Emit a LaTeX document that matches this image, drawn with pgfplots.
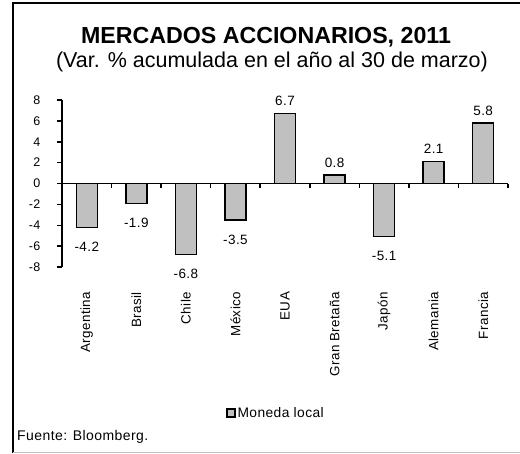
\documentclass[border=0pt]{standalone}
\usepackage{pgfplots}
\pgfplotsset{compat=1.18}
\usepackage{fontspec}
\setmainfont{Liberation Sans}[LetterSpace=3]
\newfontfamily\titlefont{Liberation Sans}
\definecolor{barfill}{HTML}{C0C0C0}
\begin{document}
\begin{tikzpicture}[x=1pt,y=1pt]
\path[use as bounding box] (0,0) rectangle (520,-453);
\draw[line width=2pt] (13,-453) -- (13,-3) -- (520,-3);
\draw[black!25, line width=1pt] (13,-452) -- (520,-452);
\node[font=\titlefont\bfseries\fontsize{23.2}{26}\selectfont, anchor=base, inner sep=0] at (266,-43) {MERCADOS ACCIONARIOS, 2011};
\node[font=\titlefont\fontsize{21.5}{24}\selectfont, anchor=base, inner sep=0] at (272,-67) {(Var. \% acumulada en el año al 30 de marzo)};
\node[font=\fontsize{14}{16}\selectfont, anchor=base west, inner sep=0] at (17,-440) {Fuente: Bloomberg.};
\begin{axis}[
  at={(62pt,-267pt)}, anchor=south west,
  scale only axis, width=446pt, height=167pt,
  xmin=-0.5, xmax=8.5, ymin=-8, ymax=8,
  axis y line=left, axis x line=middle,
  axis line style={-, line width=1.6pt, black},
  /pgf/number format/assume math mode=true,
  ytick={-8,-6,...,8},
  yticklabel style={font=\fontsize{12.5}{14}\selectfont, inner sep=0pt, xshift=-17pt},
  tick style={line width=1.5pt, black},
  major tick length=4.5pt,
  tick align=outside,
  xtick={0.5,1.5,...,8.5},
  xticklabels={},
  extra x ticks={0,...,8},
  extra x tick labels={Argentina, Brasil, Chile, México, EUA, Gran Bretaña, Japón, Alemania, Francia},
  extra x tick style={major tick length=0pt},
  xticklabel style={yshift=-105pt, rotate=90, anchor=east, font=\fontsize{13.4}{15}\selectfont},
  legend style={at={(0.368,-0.874)}, anchor=west, draw=none, inner sep=0pt, font=\fontsize{13.8}{15}\selectfont},
  legend image code/.code={\draw[fill=barfill, draw=black, line width=1.2pt] (0pt,-4pt) rectangle (8pt,4pt);},
  clip=false,
]
\addplot[ybar, bar width=21pt, fill=barfill, draw=black, line width=1.4pt,
  nodes near coords, nodes near coords align=vertical,
  visualization depends on={\pgfkeysvalueof{/data point/y} \as \rawy},
  every node near coord/.append style={font=\fontsize{13.5}{15}\selectfont, inner sep=1pt, yshift={ifthenelse(\rawy<0,-13,6)}, /pgf/number format/fixed, /pgf/number format/fixed zerofill, /pgf/number format/precision=1}
] coordinates {(0,-4.2) (1,-1.9) (2,-6.8) (3,-3.5) (4,6.7) (5,0.8) (6,-5.1) (7,2.1) (8,5.8)};
\legend{Moneda local}
\end{axis}
\end{tikzpicture}
\end{document}
